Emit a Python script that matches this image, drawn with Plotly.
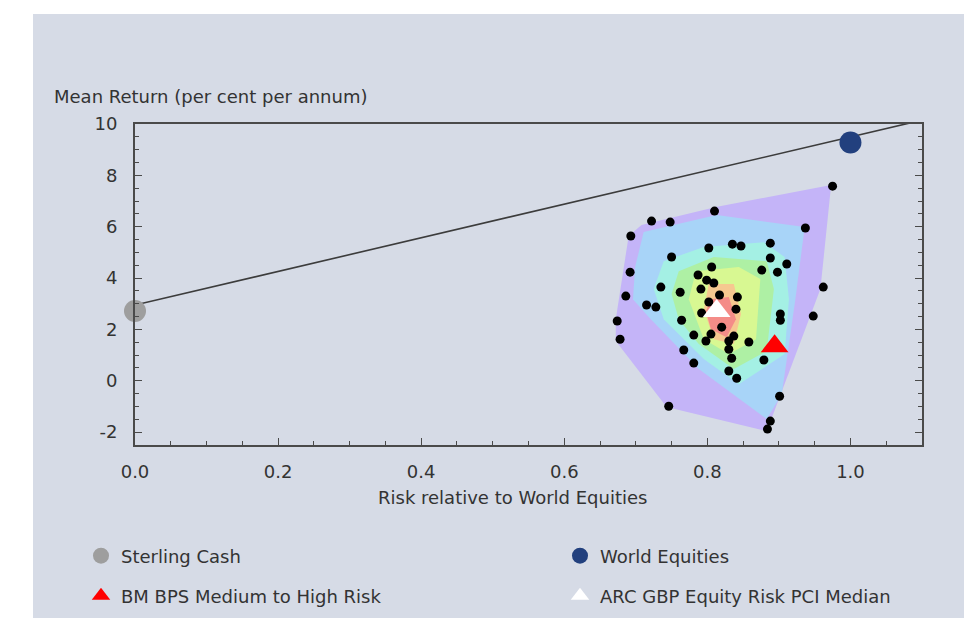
import plotly.graph_objects as go

# ---------------- data ----------------
# contour bands (outer -> inner), vertices in data units (risk, return)
band_names = ["band1", "band2", "band3", "band4", "band5", "band6", "band7"]
band1_x = [0.708, 0.812, 0.973, 0.958, 0.883, 0.743, 0.672, 0.672, 0.690]
band1_y = [6.07, 6.77, 7.62, 3.57, -1.96, -1.02, 1.55, 2.40, 5.64]
band2_x = [0.711, 0.813, 0.936, 0.923, 0.904, 0.883, 0.788, 0.718, 0.696, 0.699]
band2_y = [5.79, 6.46, 5.99, 3.18, -0.52, -1.49, 0.46, 2.48, 3.18, 4.43]
band3_x = [0.739, 0.795, 0.879, 0.908, 0.914, 0.908, 0.844, 0.795, 0.739, 0.725]
band3_y = [4.66, 5.21, 5.40, 4.82, 3.18, 1.04, -0.13, 0.85, 2.40, 3.57]
band4_x = [0.760, 0.809, 0.883, 0.893, 0.883, 0.837, 0.788, 0.760, 0.750]
band4_y = [4.27, 4.82, 4.66, 3.57, 1.16, 0.46, 1.43, 2.40, 3.38]
band5_x = [0.784, 0.844, 0.874, 0.868, 0.830, 0.795, 0.774]
band5_y = [4.27, 4.43, 3.96, 1.62, 1.04, 1.62, 3.18]
band6_x = [0.802, 0.837, 0.847, 0.837, 0.809, 0.795]
band6_y = [3.77, 3.77, 2.60, 1.43, 1.62, 2.79]
band7_x = [0.805, 0.830, 0.840, 0.827, 0.805, 0.798]
band7_y = [3.18, 3.26, 2.40, 1.70, 2.01, 2.71]
band_colors = ["#c4b4f8", "#a8d4f8", "#a4f0e4", "#aef0a4", "#d8f892", "#f6c890", "#f48c88"]

# peer group funds
fund_risk = [0.975, 0.810, 0.722, 0.748, 0.693, 0.937, 0.802, 0.835, 0.847, 0.888,
             0.750, 0.888, 0.911, 0.876, 0.898, 0.692, 0.806, 0.787, 0.799, 0.809,
             0.791, 0.735, 0.762, 0.686, 0.817, 0.842, 0.962, 0.715, 0.728, 0.802,
             0.840, 0.792, 0.902, 0.902, 0.948, 0.674, 0.764, 0.820, 0.678, 0.781,
             0.805, 0.837, 0.798, 0.830, 0.858, 0.830, 0.767, 0.834, 0.879, 0.781,
             0.830, 0.841, 0.901, 0.746, 0.888, 0.884]
fund_return = [7.58, 6.61, 6.22, 6.18, 5.64, 5.95, 5.17, 5.32, 5.25, 5.36,
               4.82, 4.78, 4.55, 4.31, 4.23, 4.23, 4.43, 4.12, 3.92, 3.81,
               3.57, 3.65, 3.45, 3.30, 3.34, 3.26, 3.65, 2.95, 2.87, 3.07,
               2.79, 2.64, 2.60, 2.36, 2.52, 2.33, 2.36, 2.09, 1.62, 1.78,
               1.82, 1.74, 1.55, 1.55, 1.51, 1.23, 1.20, 0.88, 0.81, 0.69,
               0.38, 0.10, -0.60, -0.99, -1.57, -1.88]

# reference line (capital market line)
line_risk = [0.0, 1.1]
line_return = [2.95, 10.15]

# named points
series_names = ["Sterling Cash", "World Equities", "BM BPS Medium to High Risk",
                "ARC GBP Equity Risk PCI Median"]
series_risk = [0.0, 1.0, 0.894, 0.813]
series_return = [2.72, 9.28, 1.35, 2.72]

x_tick_vals = [0.0, 0.2, 0.4, 0.6, 0.8, 1.0]
x_tick_labels = ["0.0", "0.2", "0.4", "0.6", "0.8", "1.0"]
y_tick_vals = [-2, 0, 2, 4, 6, 8, 10]
y_tick_labels = ["-2", "0", "2", "4", "6", "8", "10"]

# ---------------- figure ----------------
FONT = "DejaVu Sans"
FS = 18
TXT = "#333333"
BG = "#d6dbe6"
AX = "#4a4a4a"

fig = go.Figure()

bands = [(band1_x, band1_y), (band2_x, band2_y), (band3_x, band3_y), (band4_x, band4_y),
         (band5_x, band5_y), (band6_x, band6_y), (band7_x, band7_y)]
for (bx, by), col, nm in zip(bands, band_colors, band_names):
    fig.add_trace(go.Scatter(x=bx, y=by, fill="toself", fillcolor=col, mode="none",
                             line=dict(width=0), name=nm, showlegend=False,
                             hoverinfo="skip"))

fig.add_trace(go.Scatter(x=line_risk, y=line_return, mode="lines",
                         line=dict(color="#3c3c3c", width=1.6), showlegend=False,
                         hoverinfo="skip"))

fig.add_trace(go.Scatter(x=fund_risk, y=fund_return, mode="markers",
                         marker=dict(color="black", size=9), showlegend=False,
                         name="Funds"))

styles = [
    dict(symbol="circle", color="#9e9e9e", size=22),
    dict(symbol="circle", color="#22407e", size=22),
    dict(symbol="triangle-up", color="#ff0000", size=24),
    dict(symbol="triangle-up", color="#ffffff", size=24),
]
legends = ["legend", "legend2", "legend3", "legend4"]
for nm, xr, yr, st, lg in zip(series_names, series_risk, series_return, styles, legends):
    fig.add_trace(go.Scatter(x=[xr], y=[yr], mode="markers", name=nm,
                             marker=dict(symbol=st["symbol"], color=st["color"],
                                         size=st["size"], line=dict(width=0)),
                             cliponaxis=False, legend=lg))

# plot area in pixels: x 135..922, y 124..445
W, H = 964, 618
L, R, T, B = 135, 922, 124, 445
pw, ph = R - L, B - T


def px_x(p):
    return (p - L) / pw


def px_y(p):
    return (B - p) / ph


def cx(p):
    return p / W


def cy(p):
    return 1 - p / H


legend_common = dict(font=dict(family=FONT, size=FS, color=TXT), bgcolor="rgba(0,0,0,0)",
                     xanchor="left", yanchor="middle", itemsizing="trace",
                     orientation="h", xref="container", yref="container")
fig.update_layout(
    width=W, height=H, autosize=False,
    margin=dict(l=L, r=W - R, t=T, b=H - B, pad=0),
    paper_bgcolor="white",
    plot_bgcolor=BG,
    font=dict(family=FONT, size=FS, color=TXT),
    legend=dict(x=cx(81), y=cy(556), **legend_common),
    legend2=dict(x=cx(560), y=cy(556), **legend_common),
    legend3=dict(x=cx(81), y=cy(596), **legend_common),
    legend4=dict(x=cx(560), y=cy(596), **legend_common),
    shapes=[dict(type="rect", xref="paper", yref="paper",
                 x0=px_x(33), x1=px_x(W + 5), y0=px_y(H + 5), y1=px_y(14),
                 fillcolor=BG, line=dict(width=0), layer="below")],
    annotations=[
        dict(text="Mean Return (per cent per annum)", xref="paper", yref="paper",
             x=px_x(52), y=px_y(96), xanchor="left", yanchor="middle", showarrow=False,
             font=dict(family=FONT, size=FS, color=TXT)),
        dict(text="Risk relative to World Equities", xref="paper", yref="paper",
             x=px_x(512), y=px_y(497), xanchor="center", yanchor="middle", showarrow=False,
             font=dict(family=FONT, size=FS, color=TXT)),
    ],
)

fig.update_xaxes(range=[0, 1.1], tickmode="array", tickvals=x_tick_vals, ticktext=x_tick_labels,
                 ticks="inside", ticklen=7, tickwidth=1.2, tickcolor=AX,
                 showline=True, linecolor=AX, linewidth=2, mirror=True,
                 showgrid=False, zeroline=False, ticklabelstandoff=9,
                 tickfont=dict(family=FONT, size=FS, color=TXT),
                 minor=dict(dtick=0.05, tick0=0, ticks="inside", ticklen=4,
                            tickcolor=AX, tickwidth=1, showgrid=False))
fig.update_yaxes(range=[-2.5, 10], tickmode="array", tickvals=y_tick_vals, ticktext=y_tick_labels,
                 ticks="inside", ticklen=7, tickwidth=1.2, tickcolor=AX,
                 showline=True, linecolor=AX, linewidth=2, mirror="ticks",
                 showgrid=False, zeroline=False, ticklabelstandoff=12,
                 tickfont=dict(family=FONT, size=FS, color=TXT),
                 minor=dict(dtick=0.5, tick0=0, ticks="inside", ticklen=4,
                            tickcolor=AX, tickwidth=1, showgrid=False))

fig.write_html("out.html",
               config={"displayModeBar": False, "responsive": False},
               post_script="document.body.style.margin='0px';document.body.style.overflow='hidden';")
